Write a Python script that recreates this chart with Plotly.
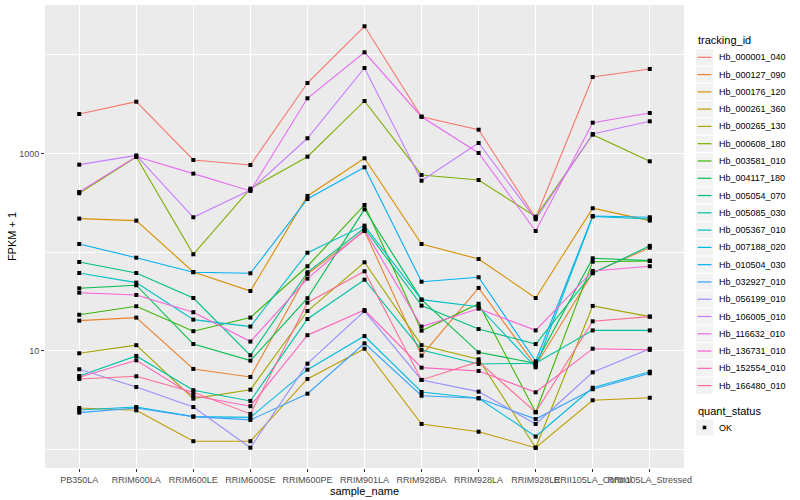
import plotly.graph_objects as go

samples = ["PB350LA", "RRIM600LA", "RRIM600LE", "RRIM600SE", "RRIM600PE", "RRIM901LA",
           "RRIM928BA", "RRIM928LA", "RRIM928LE", "RRII105LA_Control", "RRII105LA_Stressed"]

tracking_ids = ["Hb_000001_040", "Hb_000127_090", "Hb_000176_120", "Hb_000261_360", "Hb_000265_130",
                "Hb_000608_180", "Hb_003581_010", "Hb_004117_180", "Hb_005054_070", "Hb_005085_030",
                "Hb_005367_010", "Hb_007188_020", "Hb_010504_030", "Hb_032927_010", "Hb_056199_010",
                "Hb_106005_010", "Hb_116632_010", "Hb_136731_010", "Hb_152554_010", "Hb_166480_010"]

colors = ["#F8766D", "#EA8331", "#D89000", "#C09B00", "#A3A500", "#7CAE00", "#39B600", "#00BB4E",
          "#00BF7D", "#00C1A3", "#00BFC4", "#00BAE0", "#00B0F6", "#35A2FF", "#9590FF", "#C77CFF",
          "#E76BF3", "#FA62DB", "#FF62BC", "#FF6C91"]

# FPKM + 1 per sample
hb_000001_040 = [2520, 3360, 861, 766, 5200, 19550, 2366, 1747, 222, 5982, 7211]
hb_000127_090 = [20.2, 21.7, 6.54, 5.42, 60.1, 164, 8.92, 43.4, 7.06, 62.0, 111]
hb_000176_120 = [219, 209, 63.0, 40.4, 372, 896, 121, 85.3, 34.3, 279, 209]
hb_000261_360 = [2.63, 2.49, 1.21, 1.21, 5.18, 10.5, 1.81, 1.51, 1.04, 3.15, 3.34]
hb_000265_130 = [9.43, 11.4, 3.27, 4.03, 25.3, 79.0, 11.4, 8.20, 1.04, 28.5, 22.2]
hb_000608_180 = [396, 924, 95.2, 441, 930, 3416, 607, 540, 229, 1555, 835]
hb_003581_010 = [23.2, 28.3, 15.8, 21.7, 72.0, 301, 16.0, 30.0, 2.38, 80.1, 81.4]
hb_004117_180 = [43.0, 46.2, 11.7, 7.94, 34.1, 272, 33.0, 9.65, 7.47, 86.7, 82.0]
hb_005054_070 = [79.5, 61.5, 34.3, 9.00, 62.5, 176, 28.7, 16.6, 11.7, 61.1, 116]
hb_005085_030 = [5.55, 8.86, 3.98, 3.10, 21.0, 52.6, 10.2, 7.35, 7.47, 16.1, 16.1]
hb_005367_010 = [61.5, 49.1, 20.7, 17.6, 98.8, 186, 33.0, 28.0, 6.80, 230, 217]
hb_007188_020 = [2.51, 2.69, 2.15, 2.11, 6.43, 14.1, 3.82, 3.30, 1.35, 4.22, 6.14]
hb_010504_030 = [121, 87.9, 62.5, 61.1, 346, 726, 50.2, 55.7, 7.82, 233, 226]
hb_032927_010 = [2.36, 2.63, 2.15, 1.99, 3.67, 11.9, 3.50, 3.30, 2.03, 4.07, 5.91]
hb_056199_010 = [6.49, 4.29, 2.69, 1.04, 7.40, 25.3, 5.06, 3.85, 1.81, 6.05, 10.5]
hb_106005_010 = [772, 957, 226, 427, 1430, 7382, 531, 1281, 216, 1580, 2126]
hb_116632_010 = [408, 934, 626, 418, 3638, 10650, 2366, 1014, 164, 2058, 2581]
hb_136731_010 = [38.8, 36.8, 24.6, 12.4, 53.9, 168, 17.6, 26.7, 16.1, 64.5, 72.0]
hb_152554_010 = [5.38, 8.01, 3.50, 2.74, 14.4, 25.9, 6.74, 6.24, 3.79, 10.5, 10.2]
hb_166480_010 = [5.18, 5.51, 3.79, 2.29, 30.7, 64.0, 5.06, 7.75, 2.38, 19.9, 22.2]

series = [hb_000001_040, hb_000127_090, hb_000176_120, hb_000261_360, hb_000265_130,
          hb_000608_180, hb_003581_010, hb_004117_180, hb_005054_070, hb_005085_030,
          hb_005367_010, hb_007188_020, hb_010504_030, hb_032927_010, hb_056199_010,
          hb_106005_010, hb_116632_010, hb_136731_010, hb_152554_010, hb_166480_010]

quant_status = "OK"

y_major = [10, 1000]
y_minor = [1, 100, 10000]

FONT = "Liberation Sans, Arial, sans-serif"

W, H = 800, 500
ML, MR, MT, MB = 45, 116, 5, 32
PW, PH = W - ML - MR, H - MT - MB


def px(xp):
    return (xp - ML) / PW


def py(yp):
    return (H - MB - yp) / PH


fig = go.Figure()
for name, vals, col in zip(tracking_ids, series, colors):
    fig.add_trace(go.Scatter(x=samples, y=vals, mode="lines", name=name,
                             line=dict(color=col, width=1.1), showlegend=False))

all_x = [s for vals in series for s in samples]
all_y = [v for vals in series for v in vals]
fig.add_trace(go.Scatter(x=all_x, y=all_y, mode="markers", name=quant_status,
                         marker=dict(color="black", size=4, symbol="square"),
                         showlegend=False))

# ---- legend drawn in the right margin (ggplot style) ----
shapes = []
annotations = []
key_left, key_right = 696, 713
key_h = 17.28
first_c = 57.3
annotations.append(dict(text="tracking_id", x=px(696), y=py(40.5), xref="paper", yref="paper",
                        xanchor="left", yanchor="middle", showarrow=False,
                        font=dict(size=11, color="black", family=FONT)))
for i, (name, col) in enumerate(zip(tracking_ids, colors)):
    c = first_c + key_h * i
    shapes.append(dict(type="rect", xref="paper", yref="paper",
                       x0=px(key_left), x1=px(key_right), y0=py(c - 8.1), y1=py(c + 8.1),
                       fillcolor="#F2F2F2", line=dict(width=0), layer="below"))
    shapes.append(dict(type="line", xref="paper", yref="paper",
                       x0=px(key_left + 1.5), x1=px(key_right - 1.5), y0=py(c), y1=py(c),
                       line=dict(color=col, width=1.2)))
    annotations.append(dict(text=name, x=px(716.5), y=py(c), xref="paper", yref="paper",
                            xanchor="left", yanchor="middle", showarrow=False,
                            font=dict(size=9, color="black", family=FONT)))

annotations.append(dict(text="quant_status", x=px(696), y=py(410.5), xref="paper", yref="paper",
                        xanchor="left", yanchor="middle", showarrow=False,
                        font=dict(size=11, color="black", family=FONT)))
ok_c = 427.5
shapes.append(dict(type="rect", xref="paper", yref="paper",
                   x0=px(key_left), x1=px(key_right), y0=py(ok_c - 8.1), y1=py(ok_c + 8.1),
                   fillcolor="#F2F2F2", line=dict(width=0), layer="below"))
shapes.append(dict(type="rect", xref="paper", yref="paper",
                   x0=px(702.7), x1=px(706.3), y0=py(ok_c - 1.8), y1=py(ok_c + 1.8),
                   fillcolor="black", line=dict(width=0)))
annotations.append(dict(text=quant_status, x=px(716.5), y=py(ok_c), xref="paper", yref="paper",
                        xanchor="left", yanchor="middle", showarrow=False,
                        font=dict(size=9, color="black", family=FONT)))

fig.update_layout(
    width=W, height=H,
    margin=dict(l=ML, r=MR, t=MT, b=MB, autoexpand=False),
    paper_bgcolor="white",
    plot_bgcolor="#EBEBEB",
    font=dict(family=FONT, size=9, color="black"),
    showlegend=False,
    shapes=shapes,
    annotations=annotations,
    xaxis=dict(
        type="category", categoryorder="array", categoryarray=samples,
        range=[-0.6, 10.6], automargin=False, tickangle=0,
        showgrid=True, gridcolor="white", gridwidth=1.1,
        ticks="outside", ticklen=3, tickcolor="#333333", tickwidth=1,
        tickfont=dict(size=9, color="#4D4D4D", family=FONT),
        title=dict(text="sample_name", font=dict(size=11, color="black", family=FONT), standoff=0),
        zeroline=False, showline=False,
    ),
    yaxis=dict(
        type="log", automargin=False,
        range=[-0.189, 4.507],
        tickmode="array", tickvals=y_major, ticktext=[str(v) for v in y_major],
        showgrid=True, gridcolor="white", gridwidth=1.1,
        minor=dict(tickmode="array", tickvals=y_minor, showgrid=True,
                   gridcolor="white", gridwidth=0.55, ticks=""),
        ticks="outside", ticklen=3, tickcolor="#333333", tickwidth=1,
        tickfont=dict(size=9, color="#4D4D4D", family=FONT),
        title=dict(text="FPKM + 1", font=dict(size=11, color="black", family=FONT), standoff=0),
        zeroline=False, showline=False,
    ),
)

fig.write_html("out.html", config={"displayModeBar": False},
               post_script="document.body.style.margin='0';document.body.style.padding='0';")
